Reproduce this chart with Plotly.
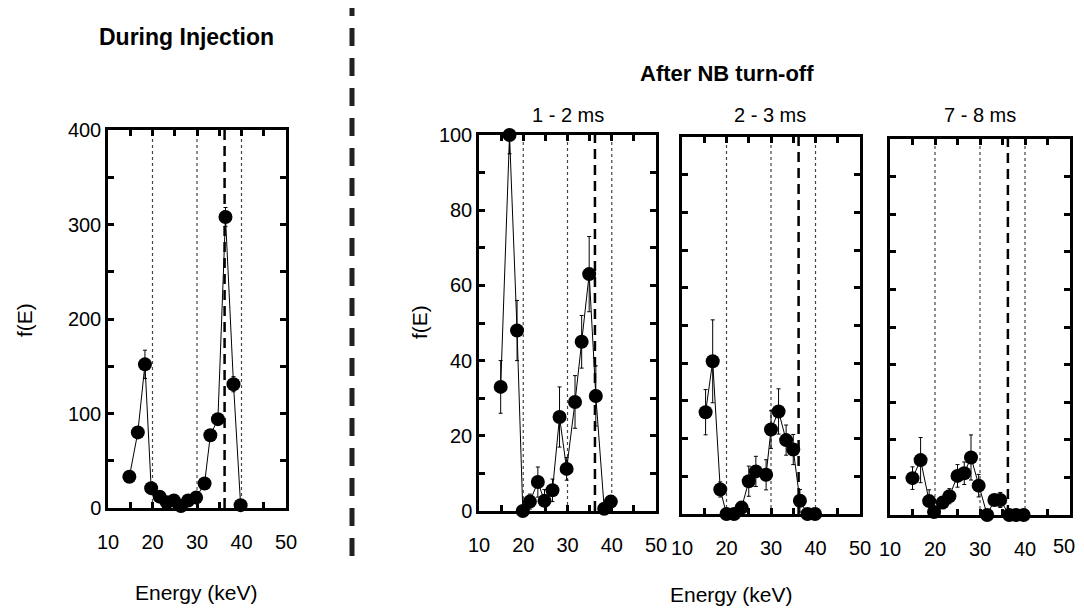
import plotly.graph_objects as go

# page offset (browser body margin) compensation
OFF = 8
W, H = 1084 - 2 * OFF, 614 - 2 * OFF

# ---------------- data ----------------
e_inj = [14.8, 16.7, 18.3, 19.7, 21.6, 23.2, 24.8, 26.4, 28.0, 29.8, 31.7, 33.0, 34.7, 36.4, 38.2, 39.8]
f_inj = [33, 80, 152, 21, 12, 6, 8, 2, 8, 11, 26, 77, 94, 308, 131, 3]
err_inj = [4, 6, 15, 3, 2, 2, 2, 2, 2, 2, 4, 6, 6, 10, 8, 2]

e_12 = [14.9, 16.9, 18.6, 19.9, 21.5, 23.3, 24.8, 26.6, 28.2, 29.8, 31.7, 33.2, 34.9, 36.4, 38.3, 39.8]
f_12 = [33, 100, 48, 0, 2.5, 7.7, 2.7, 5.5, 25, 11.2, 29, 45, 63, 30.6, 0.6, 2.5]
err_12 = [7, 5, 8, 1, 2, 4, 3, 3, 8, 3, 7, 7, 10, 8, 1, 1]

e_23 = [15.3, 16.9, 18.6, 20.0, 21.7, 23.4, 25.0, 26.6, 28.9, 30.0, 31.7, 33.4, 35.0, 36.5, 38.2, 39.9]
f_23 = [27, 40.5, 6.5, 0, 0, 1.7, 8.7, 11.3, 10.4, 22.4, 27.2, 19.6, 17.1, 3.5, 0, 0]
err_23 = [6, 11, 2, 1, 1, 1, 4, 4, 4, 5, 6, 4, 4, 3, 1, 1]

e_78 = [15.0, 16.8, 18.7, 19.8, 21.7, 23.2, 25.0, 26.5, 28.0, 29.7, 31.6, 33.2, 34.5, 36.5, 38.0, 39.7]
f_78 = [9.8, 14.6, 3.7, 0.8, 3.3, 5, 10.4, 11.1, 15.3, 7.8, 0, 4, 4, 0, 0, 0]
err_78 = [3, 6, 3, 1, 1, 2, 3, 3, 6, 3, 1, 1, 2, 1, 1, 1]

x_ticks = [10, 15, 20, 25, 30, 35, 40, 45, 50]
x_ticktext = ["10", "", "20", "", "30", "", "40", "", "50"]
x_ticktext_last = ["10", "", "20", "", "30", "", "40", "", ""]
y_ticks_inj = [0, 50, 100, 150, 200, 250, 300, 350, 400]
y_text_inj = ["0", "", "100", "", "200", "", "300", "", "400"]
y_ticks_after = [0, 10, 20, 30, 40, 50, 60, 70, 80, 90, 100]
y_text_after = ["0", "", "20", "", "40", "", "60", "", "80", "", "100"]
guide_dotted = [20, 30, 40]
guide_dashed = 36.2

panel_titles = ["1 - 2 ms", "2 - 3 ms", "7 - 8 ms"]

# ---------------- layout helpers ----------------
def px_x(a, b):
    return [(a - OFF) / W, (b - OFF) / W]

def px_y(top, bottom):
    return [(H - (bottom - OFF)) / H, (H - (top - OFF)) / H]

panels = [
    dict(e=e_inj, f=f_inj, err=err_inj, xd=px_x(108, 286), yd=px_y(130, 508),
         yr=[0, 400], yt=y_ticks_inj, ytt=y_text_inj, xtt=x_ticktext),
    dict(e=e_12, f=f_12, err=err_12, xd=px_x(479, 656), yd=px_y(135, 511),
         yr=[0, 100], yt=y_ticks_after, ytt=y_text_after, xtt=x_ticktext),
    dict(e=e_23, f=f_23, err=err_23, xd=px_x(682, 860), yd=px_y(137, 514),
         yr=[0, 100], yt=y_ticks_after, ytt=[""] * len(y_ticks_after), xtt=x_ticktext),
    dict(e=e_78, f=f_78, err=err_78, xd=px_x(890, 1070), yd=px_y(139, 515),
         yr=[0, 100], yt=y_ticks_after, ytt=[""] * len(y_ticks_after), xtt=x_ticktext_last),
]

FONT = "Liberation Sans, Arial, Helvetica, sans-serif"
TICK = 20

fig = go.Figure()
layout = dict(
    width=W, height=H, margin=dict(l=0, r=0, t=0, b=0),
    paper_bgcolor="white", plot_bgcolor="white", showlegend=False,
    font=dict(family=FONT, size=TICK, color="black"),
)
shapes = []

for i, p in enumerate(panels):
    n = "" if i == 0 else str(i + 1)
    xa, ya = "x" + n, "y" + n
    fig.add_trace(go.Scatter(
        x=p["e"], y=p["f"], xaxis=xa, yaxis=ya, mode="lines+markers",
        line=dict(color="black", width=1),
        marker=dict(color="black", size=14),
        error_y=dict(type="data", array=p["err"], color="black", thickness=1, width=2),
        cliponaxis=False,
    ))
    axcommon = dict(showline=True, mirror="ticks", linewidth=2.5, linecolor="black",
                    ticks="inside", ticklen=6, tickwidth=2.5, tickcolor="black",
                    showgrid=False, zeroline=False, automargin=False,
                    tickfont=dict(family=FONT, size=TICK, color="black"))
    layout["xaxis" + n] = dict(domain=p["xd"], range=[10, 50], anchor=ya,
                               tickmode="array", tickvals=x_ticks, ticktext=p["xtt"],
                               ticklabelstandoff=14, **axcommon)
    layout["yaxis" + n] = dict(domain=p["yd"], range=p["yr"], anchor=xa,
                               tickmode="array", tickvals=p["yt"], ticktext=p["ytt"],
                               **axcommon)
    for g in guide_dotted:
        shapes.append(dict(type="line", xref=xa, yref=ya + " domain", x0=g, x1=g, y0=0, y1=1,
                           line=dict(color="#444444", width=1.2, dash="dot"), layer="below"))
    shapes.append(dict(type="line", xref=xa, yref=ya + " domain", x0=guide_dashed, x1=guide_dashed,
                       y0=0, y1=1, line=dict(color="black", width=2.5, dash="10px,6px"), layer="below"))

# big separator
shapes.append(dict(type="line", xref="paper", yref="paper",
                   x0=(352 - OFF) / W, x1=(352 - OFF) / W,
                   y0=(H - (556 - OFF)) / H, y1=(H - (4 - OFF)) / H,
                   line=dict(color="#222222", width=5, dash="18px,12px")))
layout["shapes"] = shapes

def ann(text, x, y, size=TICK, bold=False, angle=0):
    return dict(text=("<b>%s</b>" % text) if bold else text,
                x=(x - OFF) / W, y=(H - (y - OFF)) / H,
                xref="paper", yref="paper", showarrow=False, textangle=angle,
                xanchor="center", yanchor="middle",
                font=dict(family=FONT, size=size, color="black"))

annotations = [
    ann("During Injection", 186, 37, 23, True),
    ann("After NB turn-off", 727, 73, 22, True),
    ann(panel_titles[0], 568, 115, 20),
    ann(panel_titles[1], 770, 115, 20),
    ann(panel_titles[2], 980, 115, 20),
    ann("f(E)", 24, 320, 21, angle=-90),
    ann("f(E)", 419, 322, 21, angle=-90),
    ann("Energy (keV)", 196, 592, 21),
    ann("Energy (keV)", 731, 594, 21),
    # last tick label of the rightmost panel, nudged inside the page edge
    ann(x_ticktext[-1], 1064, 546, TICK),
]
layout["annotations"] = annotations

fig.update_layout(**layout)
fig.write_html("out.html")
